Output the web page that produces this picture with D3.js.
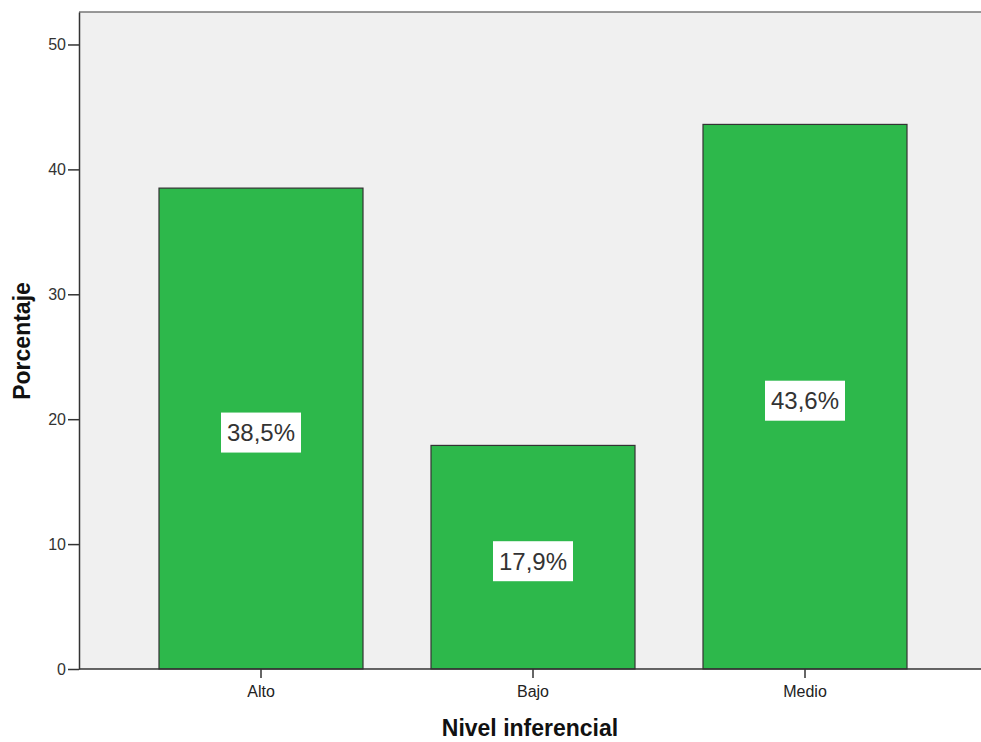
<!DOCTYPE html>
<html>
<head>
<meta charset="utf-8">
<script src="https://cdn.jsdelivr.net/npm/d3@7"></script>
<style>
  body { margin: 0; background: #fff; }
  text { font-family: "Liberation Sans", Arial, sans-serif; }
</style>
</head>
<body>
<div class="graphics"></div>
<script>
// datos
var categorias = ["Alto", "Bajo", "Medio"];
var porcentajes = [38.5, 17.9, 43.6];
var etiquetas = ["38,5%", "17,9%", "43,6%"];
var ticksY = [0, 10, 20, 30, 40, 50];

// ojo: "top" es window.top, por eso otros nombres
var w = 981, h = 742;
var mIzq = 79, mSup = 12, mInf = 669, mDer = 981;

var svg = d3.select(".graphics").append("svg")
    .attr("width", w)
    .attr("height", h);

var y = d3.scaleLinear()
    .domain([0, 52.6])
    .range([mInf, mSup]);

var x = d3.scaleBand()
    .domain(categorias)
    .range([125, 941])
    .paddingInner(0.25)
    .paddingOuter(0.125);

// fondo del area de grafico
svg.append("rect")
    .attr("x", mIzq).attr("y", mSup)
    .attr("width", mDer - mIzq).attr("height", mInf - mSup)
    .attr("fill", "#f0f0f0");

svg.append("line")
    .attr("x1", mIzq).attr("x2", mDer)
    .attr("y1", mSup).attr("y2", mSup)
    .attr("stroke", "#777").attr("stroke-width", 1.5);

var datos = categorias.map(function(c, i){
    return {cat: c, val: porcentajes[i], lab: etiquetas[i]};
});

svg.selectAll(".bar")
    .data(datos)
    .enter()
    .append("rect")
    .attr("class", "bar")
    .attr("x", function(d){ return x(d.cat); })
    .attr("y", function(d){ return y(d.val); })
    .attr("width", x.bandwidth())
    .attr("height", function(d){ return mInf - y(d.val); })
    .attr("fill", "#2db84b")
    .attr("stroke", "#333")
    .attr("stroke-width", 1.2);

// etiquetas con caja blanca
var g = svg.selectAll(".lab")
    .data(datos)
    .enter()
    .append("g")
    .attr("class", "lab")
    .attr("transform", function(d){
        return "translate(" + (x(d.cat) + x.bandwidth() / 2) + "," + (y(d.val / 2) + 4) + ")";
    });

g.append("rect")
    .attr("x", -40).attr("y", -20)
    .attr("width", 80).attr("height", 40)
    .attr("fill", "#fff");

g.append("text")
    .attr("text-anchor", "middle")
    .attr("dy", "0.36em")
    .attr("font-size", 24)
    .attr("fill", "#333")
    .text(function(d){ return d.lab; });

// ejes
var ejeY = svg.append("g")
    .attr("transform", "translate(" + mIzq + ",0)")
    .call(d3.axisLeft(y).tickValues(ticksY).tickSize(11).tickPadding(2).tickSizeOuter(0));
ejeY.select(".domain").attr("stroke", "#333").attr("stroke-width", 1.5);
ejeY.selectAll(".tick line").attr("stroke", "#333").attr("stroke-width", 1.5);
ejeY.selectAll("text").attr("font-size", 16).attr("fill", "#333")
    .style("font-family", "Liberation Sans, Arial, sans-serif");

var ejeX = svg.append("g")
    .attr("transform", "translate(0," + mInf + ")")
    .call(d3.axisBottom(x).tickSize(9).tickPadding(8).tickSizeOuter(0));
ejeX.select(".domain").attr("d", "M" + mIzq + ",0H" + mDer).attr("stroke", "#333").attr("stroke-width", 1.5);
ejeX.selectAll(".tick line").attr("stroke", "#333").attr("stroke-width", 1.5);
ejeX.selectAll("text").attr("font-size", 16).attr("fill", "#222")
    .style("font-family", "Liberation Sans, Arial, sans-serif");

// titulos
svg.append("text")
    .attr("x", (mIzq + mDer) / 2).attr("y", 736)
    .attr("text-anchor", "middle")
    .attr("font-size", 23).attr("font-weight", "bold")
    .attr("fill", "#111")
    .text("Nivel inferencial");

svg.append("text")
    .attr("transform", "translate(30,341) rotate(-90)")
    .attr("text-anchor", "middle")
    .attr("font-size", 23).attr("font-weight", "bold")
    .attr("fill", "#111")
    .text("Porcentaje");
</script>
</body>
</html>
